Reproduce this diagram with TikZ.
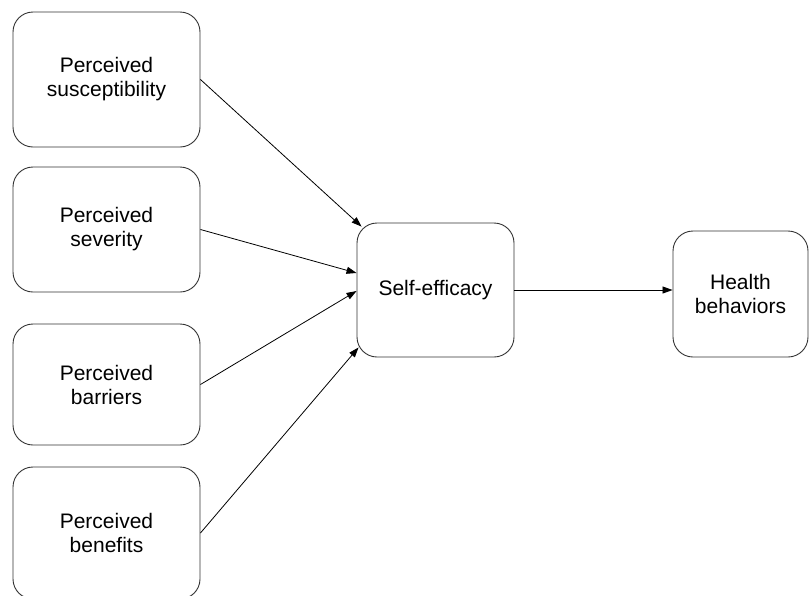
\documentclass[tikz,border=0pt]{standalone}
\usepackage{fontspec}
\setmainfont{Liberation Sans}
\usetikzlibrary{arrows.meta,calc}
\begin{document}
\begin{tikzpicture}[x=1pt,y=-1pt,
  box/.style={draw=black!80, line width=0.9pt, rounded corners=20pt, align=center,
    font=\fontsize{21}{24}\selectfont, inner sep=0pt},
  conn/.style={draw=black, line width=0.8pt, -{Triangle[length=10pt,width=7pt]}}]
\useasboundingbox (0,0) rectangle (809,595);
\node[box, minimum width=187pt, minimum height=135pt] (b1) at (106.5,79.5) {Perceived\\susceptibility};
\node[box, minimum width=187pt, minimum height=125pt] (b2) at (106.5,229.5) {Perceived\\severity};
\node[box, minimum width=187pt, minimum height=121pt] (b3) at (106.5,384.5) {Perceived\\barriers};
\node[box, minimum width=187pt, minimum height=132pt] (b4) at (106.5,533) {Perceived\\benefits};
\node[box, minimum width=157pt, minimum height=134pt] (se) at (435.5,290) {Self-efficacy};
\node[box, minimum width=135pt, minimum height=126pt] (hb) at (740.5,294) {Health\\behaviors};
\coordinate (e1) at ($(se.north west)+(5,4)$);
\coordinate (e2) at ($(se.west)+(0,-17)$);
\coordinate (e3) at ($(se.west)+(0,1)$);
\coordinate (e4) at ($(se.south west)+(2,-10)$);
\draw[conn] (b1.east) -- (e1);
\draw[conn] (b2.east) -- (e2);
\draw[conn] (b3.east) -- (e3);
\draw[conn] (b4.east) -- (e4);
\draw[conn] (se.east) -- (se.east -| hb.west);
\end{tikzpicture}
\end{document}
